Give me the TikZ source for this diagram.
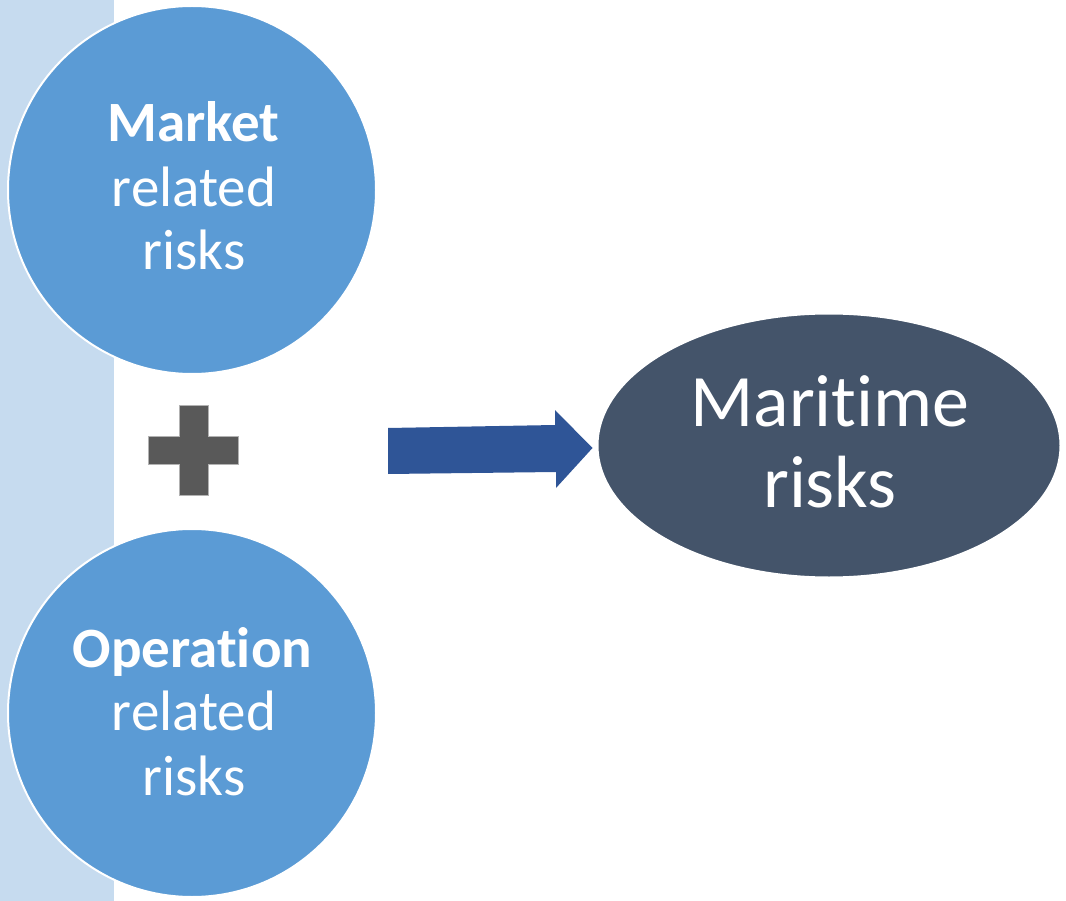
\documentclass[tikz,border=0pt]{standalone}
\usepackage{fontspec}
\setmainfont[Ligatures=NoCommon]{Carlito}
\usetikzlibrary{shapes.geometric,calc}
\definecolor{bandblue}{HTML}{C6DBEF}
\definecolor{circblue}{HTML}{5B9BD5}
\definecolor{plusgray}{HTML}{595959}
\definecolor{arrowblue}{HTML}{2F5597}
\definecolor{slate}{HTML}{44546A}
\begin{document}
\begin{tikzpicture}[x=1pt,y=-1pt,
  riskcircle/.style={circle, fill=circblue, draw=white, line width=2pt, minimum size=368pt, inner sep=0pt},
  bigoval/.style={ellipse, fill=slate, draw=white, line width=2pt, minimum width=463pt, minimum height=264pt, inner sep=0pt},
  lbl/.style={text=white, anchor=base, inner sep=0pt},
  small/.style={font=\fontsize{57}{68}\selectfont},
  large/.style={font=\fontsize{74}{88}\selectfont}]
\useasboundingbox (0,0) rectangle (1066,901);
\fill[bandblue] (0,0) rectangle (114,901);
% circles
\node[riskcircle] (market) at (192,190) {};
\node[riskcircle] (operation) at (192,713) {};
\node[bigoval] (maritime) at (829,445.5) {};
% texts
\node[lbl,small] (m1) at (193.5,142) {\bfseries Market};
\node[lbl,small] (m2) at (194,207) {related};
\node[lbl,small] (m3) at (194,270) {risks};
\node[lbl,small] (o1) at (192.5,667) {\bfseries Operation};
\node[lbl,small] (o2) at (194,730) {related};
\node[lbl,small] (o3) at (194,795) {risks};
\node[lbl,large] (r1) at (830,426) {Maritime};
\node[lbl,large] (r2) at (830,507) {risks};
% plus sign
\filldraw[fill=plusgray, draw=black!30, line width=0.8pt]
  (179,405) -- (208,405) -- (208,436) -- (238,436) -- (238,464) -- (208,464)
  -- (208,495) -- (179,495) -- (179,464) -- (148,464) -- (148,436) -- (179,436) -- cycle;
% block arrow
\coordinate (tip) at ($(maritime.west)+(-4,2.5)$);
\fill[arrowblue] (388,428) -- (555,425) -- (555,410) -- (tip) -- (556,488) -- (556,472) -- (388,474) -- cycle;
\end{tikzpicture}
\end{document}
